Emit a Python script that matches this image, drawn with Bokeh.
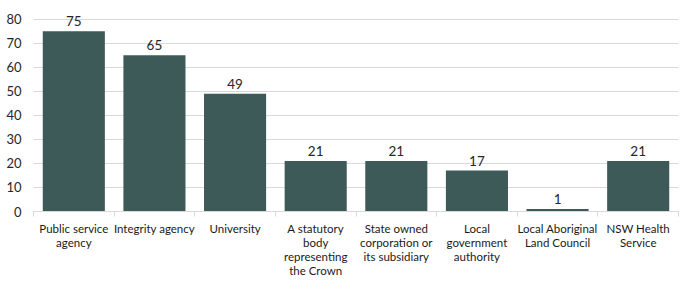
from bokeh.plotting import figure
from bokeh.models import ColumnDataSource, Range1d, FixedTicker
from bokeh.embed import file_html
from bokeh.resources import INLINE

categories = ["Public service\nagency", "Integrity agency", "University",
              "A statutory\nbody\nrepresenting\nthe Crown",
              "State owned\ncorporation or\nits subsidiary",
              "Local\ngovernment\nauthority",
              "Local Aboriginal\nLand Council",
              "NSW Health\nService"]
values = [75, 65, 49, 21, 21, 17, 1, 21]
y_ticks = [0, 10, 20, 30, 40, 50, 60, 70, 80]

FONT = "Lato"
n = len(categories)
xs = [i + 0.5 for i in range(n)]
src = ColumnDataSource(dict(x=xs, val=values, lab=[str(v) for v in values]))

p = figure(x_range=Range1d(0, n), y_range=Range1d(0, 84), width=693, height=290,
           output_backend="svg", toolbar_location=None,
           min_border_left=33, min_border_right=15, min_border_top=9, min_border_bottom=79)
p.outline_line_color = None
p.background_fill_color = "white"

p.vbar(x="x", top="val", width=0.77, source=src, fill_color="#3d5a58", line_color=None)
p.text(x="x", y="val", text="lab", source=src, text_align="center",
       text_baseline="alphabetic", y_offset=-10, text_font_size="13.5px",
       text_color="#262626", text_font={"value": FONT})

p.yaxis.ticker = FixedTicker(ticks=y_ticks)
p.yaxis.axis_line_color = None
p.yaxis.major_tick_line_color = None
p.yaxis.minor_tick_line_color = None
p.yaxis.major_label_text_font_size = "13px"
p.yaxis.major_label_text_color = "#262626"
p.yaxis.major_label_text_font = FONT
p.yaxis.major_label_standoff = 6

p.xaxis.ticker = FixedTicker(ticks=xs, minor_ticks=[float(i) for i in range(n + 1)])
p.xaxis.major_label_overrides = {x: c for x, c in zip(xs, categories)}
p.xaxis.axis_line_color = "#d9d9d9"
p.xaxis.major_tick_line_color = None
p.xaxis.minor_tick_line_color = "#d9d9d9"
p.xaxis.minor_tick_in = 0
p.xaxis.minor_tick_out = 5
p.xaxis.major_label_text_font_size = "11.5px"
p.xaxis.major_label_text_color = "#1a1a1a"
p.xaxis.major_label_text_font = FONT
p.xaxis.major_label_standoff = 4
p.xaxis.major_label_text_line_height = 1.1

p.xgrid.grid_line_color = None
p.ygrid.grid_line_color = "#d9d9d9"
p.ygrid.ticker = FixedTicker(ticks=y_ticks[1:])

open("out.html", "w").write(file_html(p, INLINE))
